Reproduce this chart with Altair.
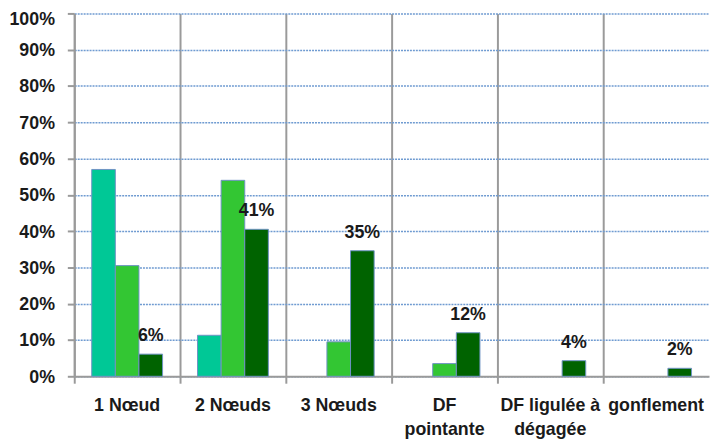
import altair as alt
import pandas as pd

categories = ["1 Nœud", "2 Nœuds", "3 Nœuds", "DF\npointante", "DF ligulée à\ndégagée", "gonflement"]
series_names = ["Série 1", "Série 2", "Série 3"]
serie1 = [0.570, 0.113, 0.0, 0.0, 0.0, 0.0]
serie2 = [0.305, 0.540, 0.095, 0.035, 0.0, 0.0]
serie3 = [0.061, 0.405, 0.346, 0.120, 0.043, 0.022]
labels3 = ["6%", "41%", "35%", "12%", "4%", "2%"]
y_ticks = [0.0, 0.1, 0.2, 0.3, 0.4, 0.5, 0.6, 0.7, 0.8, 0.9, 1.0]
colors = ["#00C896", "#33C633", "#006300"]

rows = []
for s, vals in zip(series_names, [serie1, serie2, serie3]):
    for c, v in zip(categories, vals):
        if v > 0:
            rows.append({"cat": c, "serie": s, "val": v, "lab": "", "is_label": False})
for c, v, l in zip(categories, serie3, labels3):
    rows.append({"cat": c, "serie": series_names[2], "val": v, "lab": l, "is_label": True})
df = pd.DataFrame(rows)

FONT = "Liberation Sans"

x = alt.X("cat:N", sort=categories, title=None,
          scale=alt.Scale(paddingInner=0, paddingOuter=0),
          axis=alt.Axis(bandPosition=0, grid=True, gridColor="#9a9a9a", gridWidth=2,
                        domainColor="#9a9a9a", domainWidth=2, tickColor="#9a9a9a", tickWidth=2,
                        tickSize=7, labelAngle=0, labelFont=FONT, labelFontSize=18,
                        labelFontWeight="bold", labelColor="#1a1a1a", labelPadding=14,
                        labelBaseline="top", labelLineHeight=24, labelOverlap=False,
                        labelExpr="split(datum.label, '\\n')"))
xo = alt.XOffset("serie:N", sort=series_names,
                 scale=alt.Scale(paddingInner=0, paddingOuter=0.74))
y = alt.Y("val:Q", title=None,
          scale=alt.Scale(domain=[0, 1], nice=False),
          axis=alt.Axis(values=y_ticks, format=".0%", labelOverlap=False,
                        grid=True, gridColor="#6f9bd1", gridDash=[2, 1], gridWidth=1.5,
                        domainColor="#9a9a9a", domainWidth=2, tickColor="#9a9a9a", tickWidth=2,
                        tickSize=7, labelFont=FONT, labelFontSize=18, labelFontWeight="bold",
                        labelColor="#1a1a1a", labelPadding=13,
                        labelBaseline={"condition": {"test": "datum.value >= 0.99", "value": "top"},
                                       "value": "middle"},
                        labelOffset={"condition": {"test": "datum.value >= 0.99", "value": -3},
                                     "value": 1}))

base = alt.Chart(df).encode(x=x, xOffset=xo, y=y)

bars = base.mark_bar(stroke="#6f93c4", strokeWidth=1).encode(
    color=alt.Color("serie:N", sort=series_names,
                    scale=alt.Scale(domain=series_names, range=colors), legend=None),
).transform_filter("!datum.is_label")
text = base.mark_text(font=FONT, fontSize=18, fontWeight="bold", color="#1a1a1a",
                      baseline="alphabetic", dy=-13).encode(
    text="lab:N").transform_filter("datum.is_label")

chart = alt.layer(bars, text).properties(
    width=642, height=367,
    autosize=alt.AutoSizeParams(type="none"),
    padding={"left": 67, "top": 3, "right": 1, "bottom": 66},
).configure_view(stroke=None)
chart.save("out.html", embed_options={"renderer": "svg", "actions": False})
